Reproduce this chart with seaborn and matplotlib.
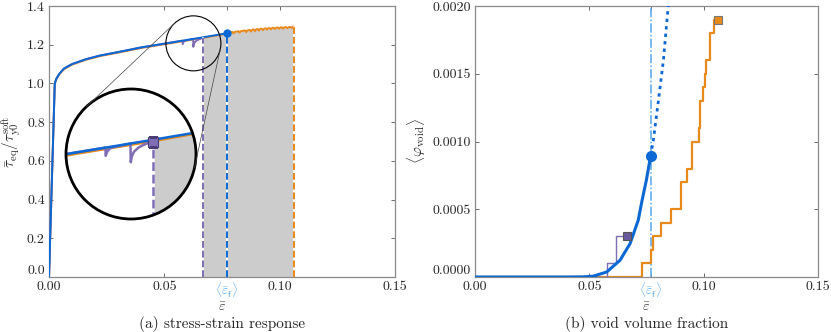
import numpy as np
import matplotlib
matplotlib.use("Agg")
import matplotlib.pyplot as plt
import seaborn as sns
from matplotlib.patches import Circle, Ellipse
from matplotlib.lines import Line2D

# ---- data ----
# (a) stress-strain: homogenised (blue) response
strain_blue = [0.0, 0.0025, 0.0032, 0.0045, 0.0065, 0.0100, 0.0160, 0.0221, 0.0308, 0.0400, 0.0508, 0.0600, 0.0666, 0.0770]
stress_blue = [0.0, 1.000, 1.025, 1.050, 1.077, 1.100, 1.125, 1.144, 1.164, 1.186, 1.207, 1.225, 1.238, 1.259]

# purple realisation (fails first)
strain_purple = [0.0, 0.0025, 0.0032, 0.0045, 0.0065, 0.0100, 0.0160, 0.0221, 0.0308, 0.0400, 0.0508,
                 0.0579, 0.05797, 0.0581, 0.0584, 0.0589, 0.0625, 0.06256, 0.06273, 0.06315,
                 0.06394, 0.06485, 0.06608, 0.06663]
stress_purple = [0.0, 1.000, 1.025, 1.050, 1.077, 1.100, 1.125, 1.144, 1.164, 1.186, 1.207,
                 1.221, 1.203, 1.2085, 1.215, 1.2205, 1.230, 1.189, 1.201, 1.212,
                 1.2208, 1.2267, 1.2326, 1.2339]

# orange realisation (fails last)
strain_orange = [0.0, 0.0025, 0.0032, 0.0045, 0.0065, 0.0100, 0.0160, 0.0221, 0.0308, 0.0400, 0.0508, 0.0600, 0.0666,
                 0.0770, 0.0778, 0.0781, 0.0785, 0.0795, 0.0800, 0.0805, 0.0815, 0.0822, 0.0826, 0.0832,
                 0.0842, 0.0850, 0.0855, 0.0860, 0.0870, 0.0876, 0.0880, 0.0888, 0.0893, 0.0898, 0.0905,
                 0.0910, 0.0914, 0.0922, 0.0928, 0.0933, 0.0940, 0.0946, 0.0950, 0.0958, 0.0963, 0.0968,
                 0.0975, 0.0980, 0.0985, 0.0993, 0.0998, 0.1003, 0.1010, 0.1016, 0.1020, 0.1028, 0.1034,
                 0.1040, 0.1048, 0.1053, 0.1058, 0.1062]
stress_orange = [0.0, 0.997, 1.022, 1.047, 1.074, 1.097, 1.122, 1.141, 1.161, 1.183, 1.204, 1.222, 1.235,
                 1.257, 1.262, 1.255, 1.263, 1.266, 1.258, 1.266, 1.268, 1.270, 1.262, 1.270,
                 1.272, 1.274, 1.265, 1.274, 1.276, 1.268, 1.277, 1.279, 1.270, 1.279, 1.281,
                 1.273, 1.281, 1.283, 1.275, 1.283, 1.285, 1.278, 1.285, 1.286, 1.279, 1.287,
                 1.287, 1.281, 1.288, 1.289, 1.282, 1.289, 1.290, 1.283, 1.290, 1.291, 1.285,
                 1.291, 1.292, 1.286, 1.293, 1.294]

eps_f_purple = 0.06663
eps_f_mean = 0.0770
eps_f_orange = 0.1062

# (b) void volume fraction
void_x_blue = [0.0, 0.040, 0.0474, 0.0517, 0.0576, 0.0634, 0.0678, 0.0714, 0.0730, 0.0750, 0.0768]
void_y_blue = [0.0, 0.0, 0.000001, 0.000006, 0.000037, 0.000123, 0.000246, 0.000420, 0.000560, 0.000720, 0.000893]
void_x_extrap = [0.0768, 0.0780, 0.0802, 0.0824, 0.0845]
void_y_extrap = [0.000893, 0.00101, 0.00130, 0.00160, 0.00200]
void_x_purple = [0.0, 0.0576, 0.0617, 0.0663]
void_y_purple = [0.0, 0.0001, 0.0003, 0.0003]
void_x_orange = [0.0, 0.0729, 0.0768, 0.0780, 0.0815, 0.0857, 0.0902, 0.0928, 0.0951, 0.0981,
                 0.0984, 0.0999, 0.1005, 0.1009, 0.1028, 0.1046, 0.1062]
void_y_orange = [0.0, 0.0001, 0.0002, 0.0003, 0.0004, 0.0005, 0.0007, 0.0008, 0.0010, 0.0011,
                 0.0013, 0.0014, 0.0015, 0.0016, 0.0018, 0.0019, 0.0019]

xticks = [0.0, 0.05, 0.10, 0.15]
xtick_labels = ["0.00", "0.05", "0.10", "0.15"]
yticks_a = [0.0, 0.2, 0.4, 0.6, 0.8, 1.0, 1.2, 1.4]
yticks_b = [0.0, 0.0005, 0.0010, 0.0015, 0.0020]

zoom_center = (0.0626, 1.207)
zoom_r_px = 27.5

# ---- style ----
sns.set_style("ticks")
plt.rcParams["font.family"] = ["cmr10", "DejaVu Serif"]
plt.rcParams["mathtext.fontset"] = "cm"
plt.rcParams["axes.formatter.use_mathtext"] = True
plt.rcParams["axes.unicode_minus"] = False
plt.rcParams["font.size"] = 10

c_blue = "#0b68d4"
c_light = "#55a6ee"
c_orange = "#e8891c"
c_purple = "#7f6db5"
c_grey = "#cccccc"
c_spine = "#8a8a8a"

fig = plt.figure(figsize=(8.31, 3.32), dpi=100)
ax1 = fig.add_axes([49 / 831, 55 / 332, 346 / 831, 271 / 332])
ax2 = fig.add_axes([475 / 831, 55 / 332, 343 / 831, 271 / 332])


def style_axes(ax):
    ax.tick_params(direction="in", top=True, right=True, length=3, width=0.6,
                   color="#555555", labelsize=10, pad=3)
    for s in ax.spines.values():
        s.set_color(c_spine)
        s.set_linewidth(0.9)
    ax.set_xlim(0, 0.15)
    ax.set_xticks(xticks + [eps_f_mean])
    ax.set_xticklabels(xtick_labels + [r"$\langle\bar{\varepsilon}_{\mathsf{f}}\rangle$"])
    ax.get_xticklabels()[-1].set_color(c_light)
    ax.get_xticklabels()[-1].set_fontsize(9.5)
    ax.set_xlabel(r"$\bar{\varepsilon}$", fontsize=10)
    ax.xaxis.set_label_coords(0.5, -0.09)


def draw_stress(ax, lw=1.4, inset=False):
    x_fill = np.array([eps_f_purple] + [x for x in strain_blue if eps_f_purple < x <= eps_f_mean]
                      + [x for x in strain_orange if x > eps_f_mean])
    top = np.interp(x_fill, strain_blue + [x for x in strain_orange if x > eps_f_mean],
                    stress_blue + [y for x, y in zip(strain_orange, stress_orange) if x > eps_f_mean])
    ax.fill_between(x_fill, 0, top, color=c_grey, lw=0, zorder=1)
    sns.lineplot(x=strain_orange, y=stress_orange, color=c_orange, lw=lw, ax=ax,
                 sort=False, estimator=None, zorder=2)
    sns.lineplot(x=strain_purple, y=stress_purple, color=c_purple, lw=lw, ax=ax,
                 sort=False, estimator=None, zorder=3)
    sns.lineplot(x=strain_blue, y=stress_blue, color=c_blue, lw=lw, ax=ax,
                 sort=False, estimator=None, zorder=4)
    for xv, yv, col in [(eps_f_purple, stress_purple[-1], c_purple),
                        (eps_f_mean, stress_blue[-1], c_blue),
                        (eps_f_orange, stress_orange[-1], c_orange)]:
        ax.plot([xv, xv], [0, yv], color="white", lw=lw, zorder=5)
        ax.plot([xv, xv], [0, yv], color=col, lw=lw, ls=(0, (3.5, 1.5)), zorder=6)
    if inset:
        ax.plot(eps_f_purple, stress_purple[-1], "s", ms=7, mfc=c_purple, mec="#4a3d75",
                mew=0.8, zorder=7)


# ---- (a) stress-strain ----
ax1.set_ylim(0, 1.4)
draw_stress(ax1)
ax1.plot(eps_f_mean, stress_blue[-1], "o", ms=5, color=c_blue, zorder=7)
style_axes(ax1)
ax1.set_yticks(yticks_a)
ax1.set_yticklabels([f"{v:.1f}" for v in yticks_a])
ax1.get_yticklabels()[0].set_va("bottom")
ax1.set_ylabel(r"$\bar{\tau}_{\rm eq}/\tau_{\rm y0}^{\rm soft}$", fontsize=11, labelpad=3)

# zoom circle on main axes
px_x = (ax1.transData.transform((1, 0)) - ax1.transData.transform((0, 0)))[0]
px_y = (ax1.transData.transform((0, 1)) - ax1.transData.transform((0, 0)))[1]
zrx, zry = zoom_r_px / px_x, zoom_r_px / px_y
ax1.add_patch(Ellipse(zoom_center, 2 * zrx, 2 * zry, fill=False, ec="black", lw=0.8, zorder=9))

# magnified circular inset
ax_in = fig.add_axes([66 / 831, (332 - 154 - 65) / 332, 130 / 831, 130 / 332])
ax_in.set_xlim(zoom_center[0] - zrx, zoom_center[0] + zrx)
ax_in.set_ylim(zoom_center[1] - zry, zoom_center[1] + zry)
draw_stress(ax_in, lw=1.8, inset=True)
ax_in.axis("off")
clip = Circle((0.5, 0.5), 0.5, transform=ax_in.transAxes)
for art in ax_in.lines + ax_in.collections:
    art.set_clip_path(clip)
ax_in.add_patch(Circle((0.5, 0.5), 0.5, transform=ax_in.transAxes, fill=False,
                       ec="black", lw=2.0, clip_on=False, zorder=10))

# tangent lines between the two circles
bb = ax_in.get_window_extent()
C1 = np.array([(bb.x0 + bb.x1) / 2, (bb.y0 + bb.y1) / 2])
R = bb.width / 2
C2 = ax1.transData.transform(zoom_center)
r = zoom_r_px
d = np.linalg.norm(C2 - C1)
u = (C2 - C1) / d
perp = np.array([-u[1], u[0]])
ca = (R - r) / d
sa = np.sqrt(1 - ca ** 2)
inv = fig.transFigure.inverted()
for sgn in (1, -1):
    n = ca * u + sgn * sa * perp
    p1 = inv.transform(C1 + R * n)
    p2 = inv.transform(C2 + r * n)
    fig.add_artist(Line2D([p1[0], p2[0]], [p1[1], p2[1]], color="#444444", lw=0.5,
                          transform=fig.transFigure, zorder=0.5))

# ---- (b) void volume fraction ----
ax2.set_ylim(0, 0.002)
ax2.axvline(eps_f_mean, color=c_light, lw=1.1, ls=(0, (6, 1.5, 1, 1.5)), zorder=1)
sns.lineplot(x=void_x_orange, y=void_y_orange, color=c_orange, lw=1.6, ax=ax2,
             sort=False, estimator=None, drawstyle="steps-post", zorder=2)
sns.lineplot(x=void_x_purple, y=void_y_purple, color=c_purple, lw=1.0, ax=ax2,
             sort=False, estimator=None, drawstyle="steps-post", zorder=3)
sns.lineplot(x=void_x_blue, y=void_y_blue, color=c_blue, lw=2.2, ax=ax2,
             sort=False, estimator=None, zorder=4)
sns.lineplot(x=void_x_extrap, y=void_y_extrap, color=c_blue, lw=2.0, ls=(0, (1.2, 1.5)),
             ax=ax2, sort=False, estimator=None, zorder=4)
ax2.plot(void_x_blue[-1], void_y_blue[-1], "o", ms=7, color=c_blue, zorder=6)
ax2.plot(void_x_purple[-1], void_y_purple[-1], "s", ms=6, mfc="#6a5a9c", mec="#555555",
         mew=0.8, zorder=6, clip_on=False)
ax2.plot(void_x_orange[-1], void_y_orange[-1], "s", ms=6, mfc=c_orange, mec="#777777",
         mew=0.8, zorder=6, clip_on=False)
style_axes(ax2)
ax2.set_yticks(yticks_b)
ax2.set_yticklabels([f"{v:.4f}" for v in yticks_b])
ax2.get_yticklabels()[0].set_va("bottom")
ax2.set_ylabel(r"$\langle\varphi_{\rm void}\rangle$", fontsize=11, labelpad=3)

fig.text((49 + 395) / 2 / 831, 0.025, "(a) stress-strain response", ha="center", va="center", fontsize=11)
fig.text((475 + 818) / 2 / 831, 0.025, "(b) void volume fraction", ha="center", va="center", fontsize=11)

fig.savefig("out.png", dpi=100)
